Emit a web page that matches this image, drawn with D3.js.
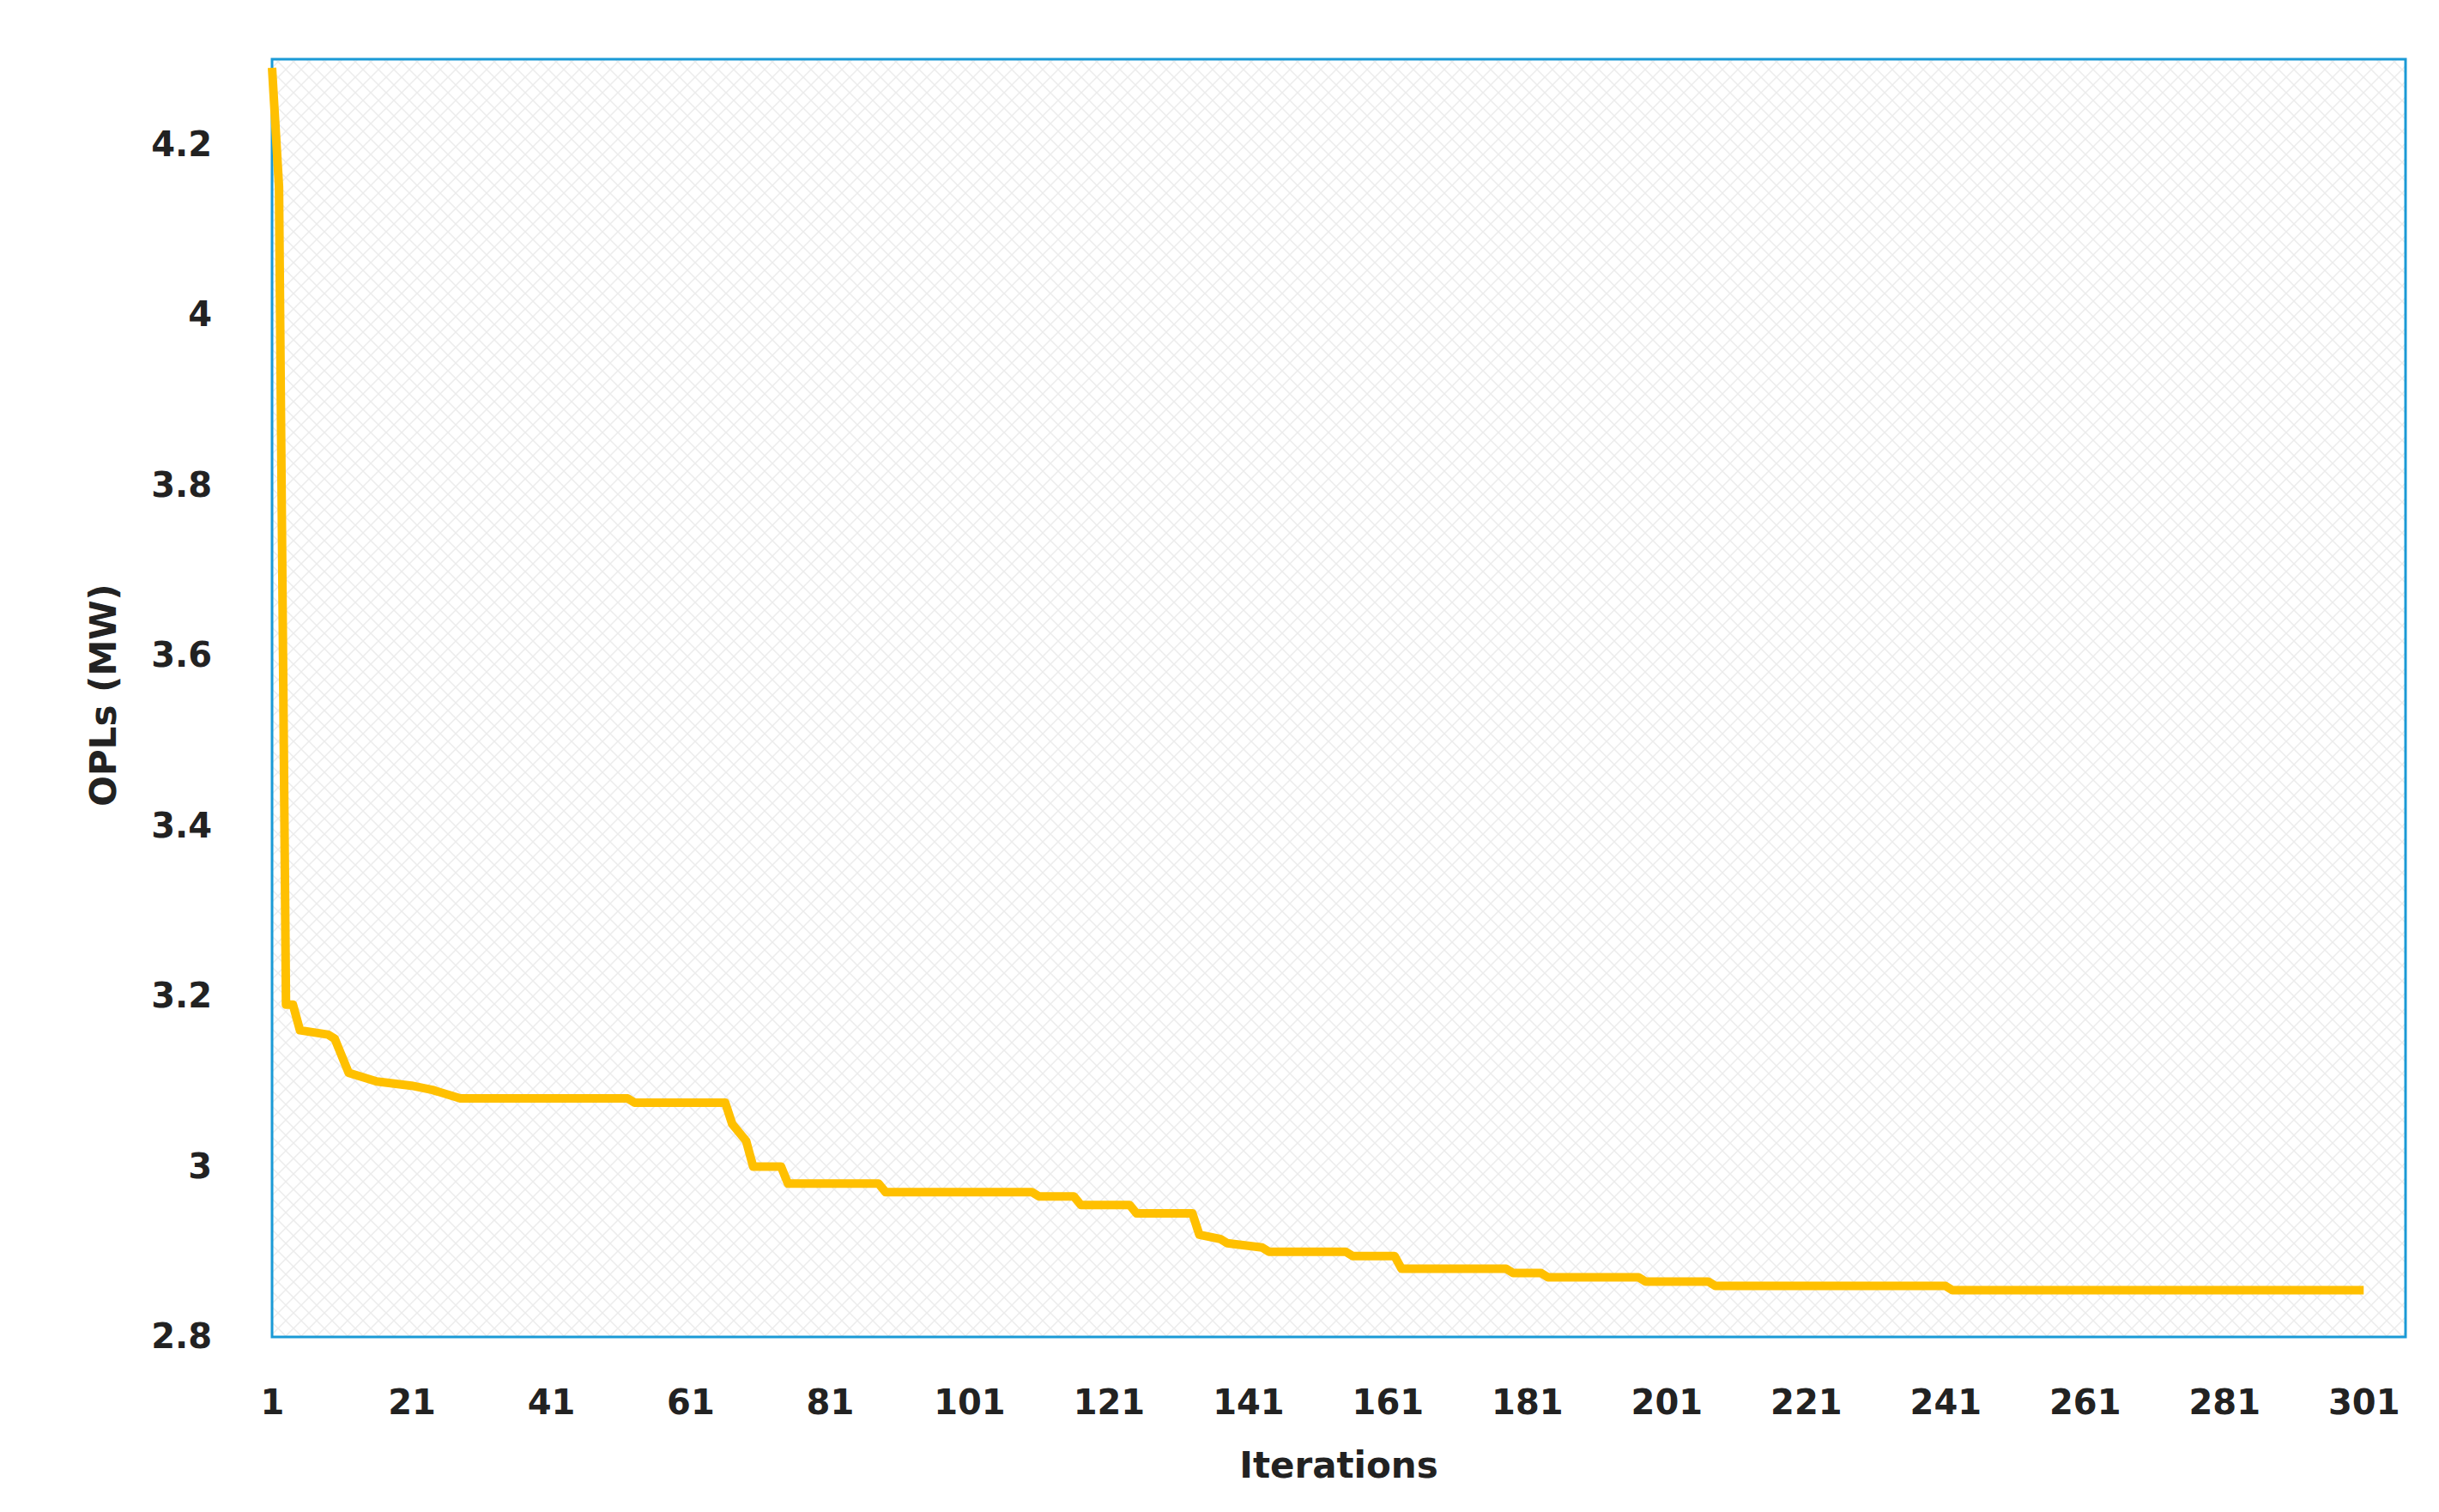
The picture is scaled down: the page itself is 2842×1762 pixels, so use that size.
<!DOCTYPE html>
<html><head><meta charset="utf-8">
<script src="https://cdn.jsdelivr.net/npm/d3@7"></script>
<style>body{margin:0;background:#fff}</style></head>
<body><svg id="c" width="2842" height="1762"></svg>
<script>
const iterations = [1,2,3,4,5,9,10,12,16,21,24,28,52,53,66,67,69,70,74,75,88,89,110,111,116,117,124,125,133,134,137,138,143,144,155,156,162,163,178,179,183,184,197,198,207,208,241,242,301];
const opls =       [4.29,4.15,3.19,3.19,3.16,3.155,3.15,3.11,3.10,3.095,3.09,3.08,3.08,3.075,3.075,3.05,3.03,3.00,3.00,2.98,2.98,2.97,2.97,2.965,2.965,2.955,2.955,2.945,2.945,2.92,2.915,2.91,2.905,2.90,2.90,2.895,2.895,2.88,2.88,2.875,2.875,2.87,2.87,2.865,2.865,2.86,2.86,2.855,2.855];
const xTicks = [1,21,41,61,81,101,121,141,161,181,201,221,241,261,281,301];
const yTicks = [2.8,3,3.2,3.4,3.6,3.8,4,4.2];

const svg = d3.select("#c");
const L=317,R=2803,T=69,B=1558;
const x = d3.scaleLinear().domain([1,307]).range([L,R]);
const y = d3.scaleLinear().domain([2.8,4.3]).range([B,T]);
const defs = svg.append("defs");
const p = defs.append("pattern").attr("id","hatch").attr("width",18).attr("height",18).attr("patternUnits","userSpaceOnUse");
p.append("path").attr("d","M0,0L18,18M18,0L0,18").attr("stroke","#ececec").attr("stroke-width",1.5);
svg.append("rect").attr("x",L).attr("y",T).attr("width",R-L).attr("height",B-T).attr("fill","url(#hatch)").attr("stroke","#1a9ad6").attr("stroke-width",3);

const font="'DejaVu Sans', Verdana, sans-serif";
const xa = svg.append("g").attr("transform",`translate(0,${B})`).call(d3.axisBottom(x).tickValues(xTicks).tickSize(0).tickPadding(62).tickFormat(d3.format("d")));
const ya = svg.append("g").attr("transform",`translate(${L},0)`).call(d3.axisLeft(y).tickValues(yTicks).tickSize(0).tickPadding(70).tickFormat(d=>String(+d.toFixed(1))));
[xa,ya].forEach(a=>{a.select(".domain").remove();a.selectAll("text").attr("font-family",font).attr("font-weight","bold").attr("font-size",40).attr("fill","#222");});

svg.append("path").datum(iterations.map((d,i)=>[d,opls[i]]))
 .attr("d",d3.line().x(d=>x(d[0])).y(d=>y(d[1])))
 .attr("fill","none").attr("stroke","#FFC000").attr("stroke-width",10).attr("stroke-linejoin","round");

svg.append("text").attr("x",(L+R)/2).attr("y",1722).attr("text-anchor","middle").attr("font-family",font).attr("font-weight","bold").attr("font-size",42).attr("fill","#222").text("Iterations");
svg.append("text").attr("transform","translate(135,810) rotate(-90)").attr("text-anchor","middle").attr("font-family",font).attr("font-weight","bold").attr("font-size",42).attr("fill","#222").text("OPLs (MW)");
</script></body></html>
